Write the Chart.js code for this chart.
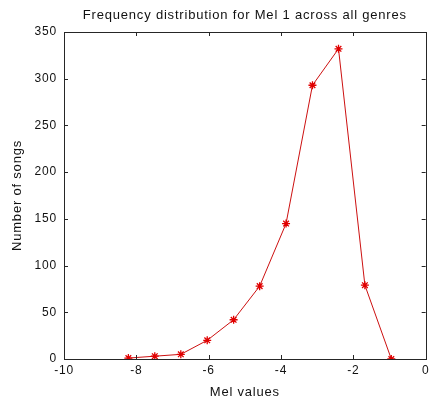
<!DOCTYPE html>
<html>
<head>
<meta charset="utf-8">
<script src="https://cdn.jsdelivr.net/npm/chart.js@4/dist/chart.umd.min.js"></script>
<style>
  html, body { margin: 0; padding: 0; background: #fff; }
  #wrap { width: 433px; height: 396px; }
</style>
</head>
<body>
<div id="wrap"><canvas id="melChart"></canvas></div>
<script>
// values
const melValues = [-8.22, -7.49, -6.77, -6.04, -5.31, -4.59, -3.86, -3.13, -2.41, -1.68, -0.95];
const songCounts = [1, 3, 5, 20, 42, 78, 145, 293, 332, 79, 0];
const xTicks = [-10, -8, -6, -4, -2, 0];
const yTicks = [0, 50, 100, 150, 200, 250, 300, 350];

const FONT = "'Liberation Sans', Arial, Helvetica, sans-serif";

// matlab text looks a bit spaced out
const spacingPlugin = {
    id: "letterSpacing",
    beforeDraw(chart) {
        chart.ctx.letterSpacing = "0.8px";
    },
};

// MATLAB style box with inward ticks on all four sides
const boxPlugin = {
    id: "matlabBox",
    afterDraw(chart) {
        const { ctx, chartArea: a, scales } = chart;
        ctx.save();
        ctx.strokeStyle = "#262626";
        ctx.lineWidth = 1;
        ctx.strokeRect(Math.round(a.left) + 0.5, Math.round(a.top) + 0.5,
            Math.round(a.right - a.left), Math.round(a.bottom - a.top));
        const len = 4;
        ctx.beginPath();
        xTicks.forEach((v) => {
            const px = Math.round(scales.x.getPixelForValue(v)) + 0.5;
            ctx.moveTo(px, a.bottom);
            ctx.lineTo(px, a.bottom - len);
            ctx.moveTo(px, a.top);
            ctx.lineTo(px, a.top + len);
        });
        yTicks.forEach((v) => {
            const py = Math.round(scales.y.getPixelForValue(v)) + 0.5;
            ctx.moveTo(a.left, py);
            ctx.lineTo(a.left + len, py);
            ctx.moveTo(a.right, py);
            ctx.lineTo(a.right - len, py);
        });
        ctx.stroke();
        ctx.restore();
    },
};

new Chart(document.getElementById("melChart"), {
    type: "line",
    data: {
        datasets: [{
            data: melValues.map((x, i) => ({ x, y: songCounts[i] })),
            borderColor: "#cc1010",
            borderWidth: 1,
            pointStyle: "star",
            pointRadius: 4,
            pointBorderColor: "#e00000",
            pointBorderWidth: 1.3,
            pointBackgroundColor: "#e00000",
            tension: 0,
            fill: false,
        }],
    },
    options: {
        responsive: true,
        maintainAspectRatio: false,
        animation: false,
        devicePixelRatio: 1,
        layout: { padding: { top: 0, right: 5, bottom: -4, left: 0 } },
        plugins: {
            legend: { display: false },
            tooltip: { enabled: false },
            title: {
                display: true,
                fullSize: false,
                text: "Frequency distribution for Mel 1 across all genres",
                color: "#111",
                font: { family: FONT, size: 13, weight: "normal" },
                padding: { top: 8, bottom: 8.4 },
            },
        },
        scales: {
            x: {
                type: "linear",
                min: -10,
                max: 0,
                afterBuildTicks: (s) => { s.ticks = xTicks.map((v) => ({ value: v })); },
                afterFit: (s) => { s.height = 41; },
                grid: { display: false, drawTicks: false },
                border: { display: false },
                ticks: {
                    color: "#111",
                    padding: 4,
                    maxRotation: 0,
                    font: { family: FONT, size: 12 },
                },
                title: {
                    display: true,
                    text: "Mel values",
                    color: "#111",
                    font: { family: FONT, size: 13 },
                    padding: { top: 0, bottom: 0 },
                },
            },
            y: {
                min: 0,
                max: 350,
                afterBuildTicks: (s) => { s.ticks = yTicks.map((v) => ({ value: v })); },
                afterFit: (s) => { s.width = 64; },
                grid: { display: false, drawTicks: false },
                border: { display: false },
                ticks: {
                    color: "#111",
                    padding: 7,
                    font: { family: FONT, size: 12 },
                },
                title: {
                    display: true,
                    text: "Number of songs",
                    color: "#111",
                    font: { family: FONT, size: 13 },
                    padding: { top: 10, bottom: 0 },
                },
            },
        },
    },
    plugins: [spacingPlugin, boxPlugin],
});
</script>
</body>
</html>
